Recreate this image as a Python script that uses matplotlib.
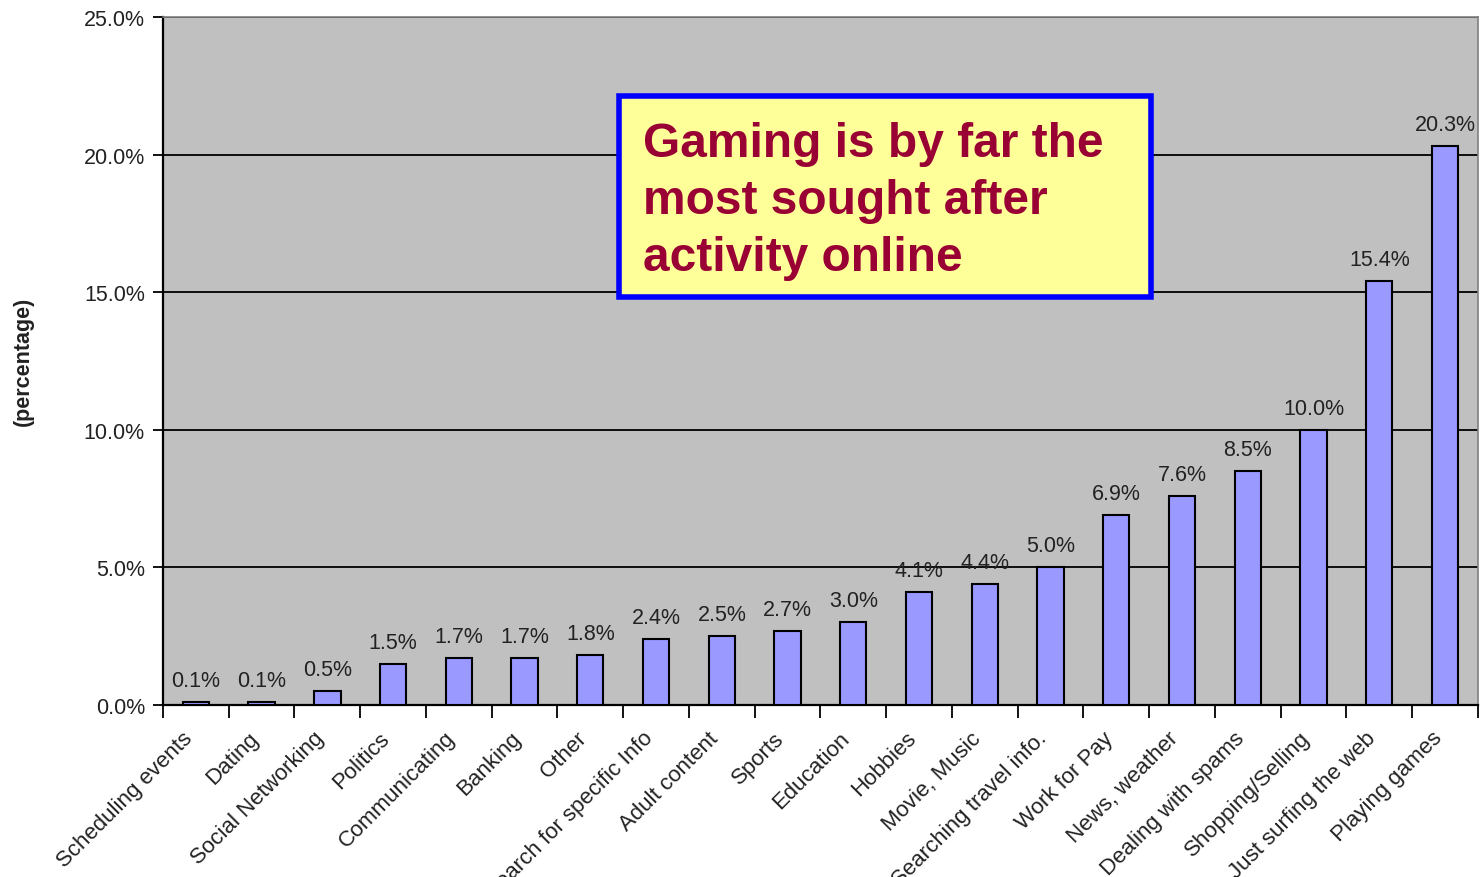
import matplotlib
matplotlib.use("Agg")
import matplotlib.pyplot as plt
from matplotlib.patches import Rectangle
from matplotlib.ticker import FixedLocator, FuncFormatter
from matplotlib.transforms import ScaledTranslation

categories = ["Scheduling events", "Dating", "Social Networking", "Politics",
              "Communicating", "Banking", "Other", "Search for specific Info",
              "Adult content", "Sports", "Education", "Hobbies", "Movie, Music",
              "Searching travel info.", "Work for Pay", "News, weather",
              "Dealing with spams", "Shopping/Selling", "Just surfing the web",
              "Playing games"]
values = [0.1, 0.1, 0.5, 1.5, 1.7, 1.7, 1.8, 2.4, 2.5, 2.7, 3.0, 4.1, 4.4,
          5.0, 6.9, 7.6, 8.5, 10.0, 15.4, 20.3]
value_labels = ["0.1%", "0.1%", "0.5%", "1.5%", "1.7%", "1.7%", "1.8%", "2.4%",
                "2.5%", "2.7%", "3.0%", "4.1%", "4.4%", "5.0%", "6.9%", "7.6%",
                "8.5%", "10.0%", "15.4%", "20.3%"]
yticks = [0, 5, 10, 15, 20, 25]

plt.rcParams['font.family'] = ['Liberation Sans', 'DejaVu Sans']

fig = plt.figure(figsize=(14.83, 8.78), dpi=100)
ax = fig.add_axes([0.1099, 0.1959, 0.8867, 0.7836])
ax.set_facecolor('#C0C0C0')

n = len(categories)
x = list(range(n))
ax.bar(x, values, width=0.4, color='#9999FF', edgecolor='black', linewidth=1.5, zorder=3)
for xi, v, lab in zip(x, values, value_labels):
    ax.annotate(lab, (xi, v), xytext=(0, 8), textcoords='offset points',
                ha='center', va='bottom', fontsize=15.5, color='#222222', zorder=4)

ax.set_xlim(-0.5, n - 0.5)
ax.set_ylim(0, 25)
ax.set_yticks(yticks)
ax.yaxis.set_major_formatter(FuncFormatter(lambda v, p: f"{v:.1f}%"))
ax.yaxis.grid(True, color='black', linewidth=1.3, zorder=1)
ax.tick_params(axis='y', length=7, width=1.3, labelsize=15.5, labelcolor='#222222', pad=6)

ax.set_xticks(x)
ax.set_xticklabels(categories, rotation=45, ha='right', rotation_mode='anchor',
                   fontsize=16, color='#222222')
ax.tick_params(axis='x', which='major', length=0, pad=16)
shift = ScaledTranslation(-14 / 100, 0, fig.dpi_scale_trans)
for lbl in ax.get_xticklabels():
    lbl.set_transform(lbl.get_transform() + shift)
ax.xaxis.set_minor_locator(FixedLocator([i - 0.5 for i in range(n + 1)]))
ax.tick_params(axis='x', which='minor', length=9, width=1.3)

for s in ['left', 'bottom']:
    ax.spines[s].set_linewidth(1.6)
    ax.spines[s].set_color('black')
for s in ['top', 'right']:
    ax.spines[s].set_linewidth(1.2)
    ax.spines[s].set_color('#808080')

fig.text(0.016, 0.588, "(percentage)", rotation=90, ha='center', va='center',
         fontsize=15.5, fontweight='bold', color='#222222')

box = Rectangle((0.4175, 0.6606), 0.3584, 0.2292, transform=fig.transFigure,
                facecolor='#FFFF99', edgecolor='#0000FF', linewidth=4, zorder=5)
fig.patches.append(box)
fig.text(0.4336, 0.861, "Gaming is by far the\nmost sought after\nactivity online",
         ha='left', va='top', fontsize=34.5, fontweight='bold', color='#990033',
         linespacing=1.34, zorder=6)

fig.savefig("out.png", dpi=100)
